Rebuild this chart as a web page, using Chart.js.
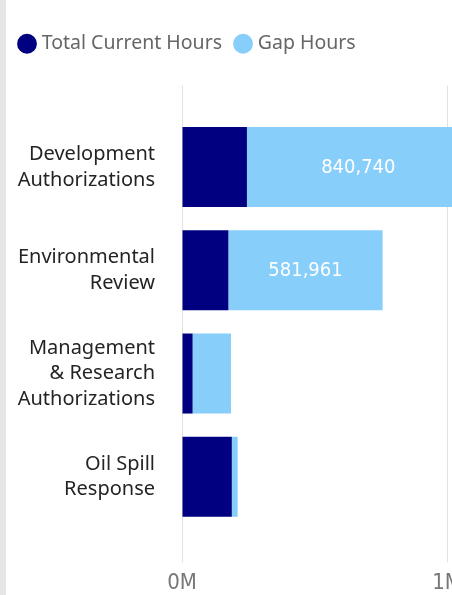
<!DOCTYPE html>
<html>
<head>
<meta charset="utf-8">
<script src="https://cdn.jsdelivr.net/npm/chart.js@4.4.1/dist/chart.umd.min.js"></script>
<style>
	html, body { margin: 0; padding: 0; background: #fff; overflow: hidden; width: 452px; height: 595px; }
	#strip { position: absolute; left: 0; top: 0; width: 6px; height: 595px; background: #e6e6e6; z-index: 2; }
	#wrap { position: absolute; left: 0; top: 0; width: 480px; height: 595px; }
</style>
</head>
<body>
<div id="strip"></div>
<div id="wrap"><canvas id="chart" width="480" height="595" style="width:480px;height:595px"></canvas></div>
<script>
// data
const categories = [
	['Development', 'Authorizations'],
	['Environmental', 'Review'],
	['Management', '& Research', 'Authorizations'],
	['Oil Spill', 'Response'],
];
const currentHours = [245000, 175000, 40000, 188000];
const gapHours = [840740, 581961, 145000, 22000];
const xTicks = [0, 1000000];
const xTickLabels = ['0M', '1M'];

const navy = '#000080';
const skyBlue = '#87cefa';
const numberFont = '"DejaVu Sans Condensed", "DejaVu Sans"';

// make the legend block taller so the plot starts lower
const legendHeight = {
	id: 'legendHeight',
	beforeInit(chart) {
		const fit = chart.legend.fit;
		chart.legend.fit = function () {
			fit.bind(chart.legend)();
			this.height = 97.4;
		};
	},
};

// gridlines run past the top and bottom of the bars
const longGrid = {
	id: 'longGrid',
	beforeDatasetsDraw(chart) {
		const { ctx, chartArea, scales: { x } } = chart;
		ctx.save();
		ctx.strokeStyle = '#e2e2e2';
		ctx.lineWidth = 1;
		xTicks.forEach(v => {
			const px = Math.round(x.getPixelForValue(v)) + 0.5;
			ctx.beginPath();
			ctx.moveTo(px, chartArea.top - 30);
			ctx.lineTo(px, chartArea.bottom + 34);
			ctx.stroke();
		});
		ctx.restore();
	},
};

// value labels on the wide gap bars
const gapLabels = {
	id: 'gapLabels',
	afterDatasetsDraw(chart) {
		const { ctx } = chart;
		const meta = chart.getDatasetMeta(1);
		ctx.save();
		ctx.fillStyle = '#ffffff';
		ctx.font = '20px ' + numberFont;
		ctx.textAlign = 'center';
		ctx.textBaseline = 'middle';
		meta.data.forEach((bar, i) => {
			const w = Math.abs(bar.x - bar.base);
			if (w < 90) return;
			ctx.fillText(gapHours[i].toLocaleString('en-US'), (bar.x + bar.base) / 2, bar.y + 1);
		});
		ctx.restore();
	},
};

const config = {
	type: 'bar',
	data: {
		labels: categories,
		datasets: [
			{
				label: 'Total Current Hours',
				data: currentHours,
				backgroundColor: navy,
				borderWidth: 0,
				clip: false,
			},
			{
				label: 'Gap Hours',
				data: gapHours,
				backgroundColor: skyBlue,
				borderWidth: 0,
				clip: false,
			},
		],
	},
	options: {
		indexAxis: 'y',
		responsive: false,
		animation: false,
		barPercentage: 0.775,
		categoryPercentage: 1,
		layout: {
			padding: { top: 18, left: 6, right: 33, bottom: 0 },
		},
		scales: {
			x: {
				stacked: true,
				min: 0,
				max: 1000000,
				// invisible tick marks push the labels down without widening the side padding
				grid: { display: true, drawOnChartArea: false, drawTicks: true, tickLength: 41.6, color: 'rgba(0,0,0,0)' },
				border: { display: false },
				afterBuildTicks: scale => {
					scale.ticks = xTicks.map(v => ({ value: v }));
				},
				afterFit: scale => {
					scale.height = 66.6;
				},
				ticks: {
					padding: 0,
					color: '#777777',
					font: { family: numberFont, size: 22 },
					maxRotation: 0,
					callback: (value, index) => xTickLabels[index],
				},
			},
			y: {
				stacked: true,
				grid: { display: false, drawTicks: false },
				border: { display: false },
				afterFit: scale => {
					scale.width = 176;
				},
				ticks: {
					padding: 27,
					color: '#252423',
					font: { family: '"Noto Sans"', size: 20, lineHeight: 1.28 },
				},
			},
		},
		plugins: {
			legend: {
				position: 'top',
				align: 'start',
				labels: {
					usePointStyle: true,
					pointStyle: 'circle',
					boxWidth: 10,
					boxHeight: 14,
					padding: 16,
					color: '#666666',
					font: { family: '"Noto Sans"', size: 19.5 },
				},
			},
			tooltip: { enabled: false },
		},
	},
	plugins: [legendHeight, longGrid, gapLabels],
};

const myChart = new Chart(document.getElementById('chart'), config);
</script>
</body>
</html>
